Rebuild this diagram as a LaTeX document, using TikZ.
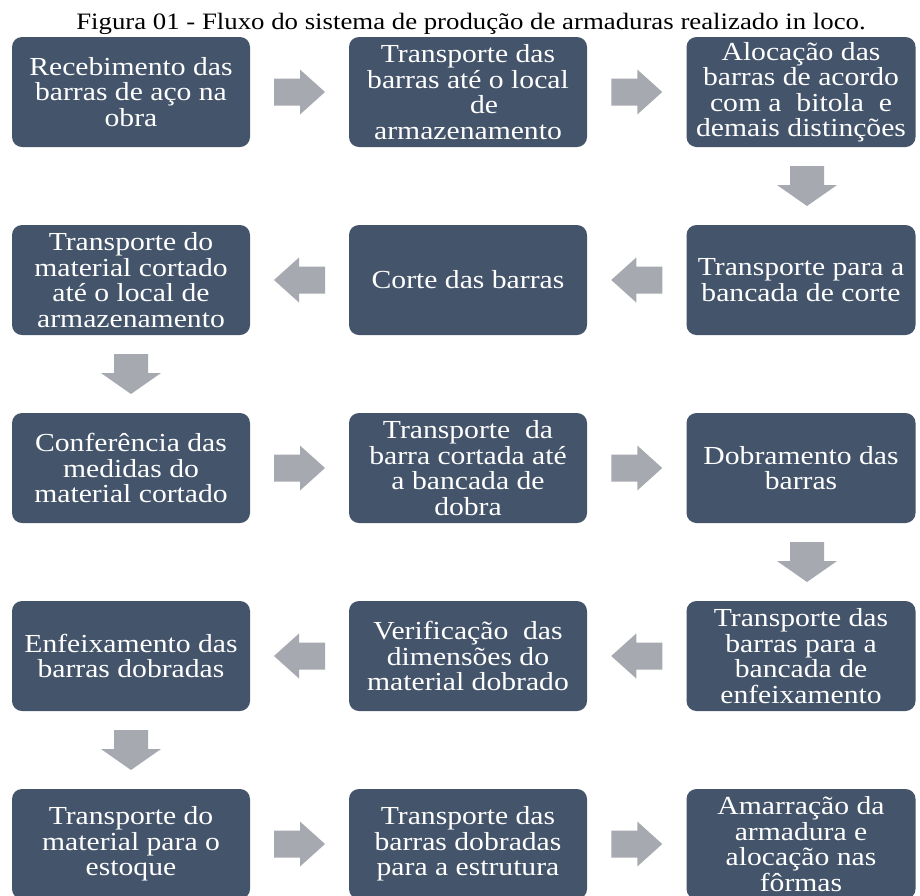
\documentclass[tikz,border=0pt]{standalone}
\usepackage{fontspec}
\setmainfont{Liberation Serif}[FakeStretch=1.14]
\usetikzlibrary{calc}
\definecolor{boxfill}{HTML}{44546A}
\definecolor{arrowfill}{RGB}{166,169,176}
\tikzset{
  stepbox/.style={draw=none, fill=boxfill, rounded corners=10pt, text=white,
    align=center, inner sep=0pt, minimum height=110pt, minimum width=238pt,
    font=\fontsize{26}{25.5}\selectfont},
  narrowbox/.style={stepbox, minimum width=229pt},
  blockarrow/.style={fill=arrowfill, draw=none}
}
\newcommand\rightblock[1]{\fill[blockarrow, shift={(#1)}] (-25.5,-13.5) -- (0.5,-13.5) -- (0.5,-22.5) -- (25.5,0) -- (0.5,22.5) -- (0.5,13.5) -- (-25.5,13.5) -- cycle;}
\newcommand\leftblock[1]{\fill[blockarrow, shift={(#1)}] (25.5,-13.5) -- (-0.5,-13.5) -- (-0.5,-22.5) -- (-25.5,0) -- (-0.5,22.5) -- (-0.5,13.5) -- (25.5,13.5) -- cycle;}
\newcommand\downblock[1]{\fill[blockarrow, shift={(#1)}] (-17,-20) -- (17,-20) -- (17,-1) -- (30,-1) -- (0,20) -- (-30,-1) -- (-17,-1) -- cycle;}
\begin{document}
\begin{tikzpicture}[x=1pt,y=-1pt]
\fill[white] (0,0) rectangle (920,895);
\useasboundingbox (0,0) rectangle (920,895);

\node[anchor=base, font=\fontsize{23.5}{28}\selectfont] (title) at (471,29)
  {Figura 01 - Fluxo do sistema de produção de armaduras realizado in loco.};

% row 1
\node[stepbox] (a1) at (131,92) {Recebimento das\\barras de aço na\\obra};
\node[stepbox] (a2) at (468,92) {Transporte das\\barras até o local\\\hspace*{32pt}de\\armazenamento};
\node[narrowbox] (a3) at (801,92) {Alocação das\\barras de acordo\\com a\ \ bitola\ \ e\\demais distinções};
% row 2
\node[narrowbox] (b3) at (801,280) {Transporte para a\\bancada de corte};
\node[stepbox] (b2) at (468,280) {Corte das barras};
\node[stepbox] (b1) at (131,280) {Transporte do\\material cortado\\até o local de\\armazenamento};
% row 3
\node[stepbox] (c1) at (131,468) {Conferência das\\medidas do\\material cortado};
\node[stepbox] (c2) at (468,468) {Transporte\ \ da\\barra cortada até\\a bancada de\\dobra};
\node[narrowbox] (c3) at (801,468) {Dobramento das\\barras};
% row 4
\node[narrowbox] (d3) at (801,656) {Transporte das\\barras para a\\bancada de\\enfeixamento};
\node[stepbox] (d2) at (468,656) {Verificação\ \ das\\dimensões do\\material dobrado};
\node[stepbox] (d1) at (131,656) {Enfeixamento das\\barras dobradas};
% row 5
\node[stepbox] (e1) at (131,844) {Transporte do\\material para o\\estoque};
\node[stepbox] (e2) at (468,844) {Transporte das\\barras dobradas\\para a estrutura};
\node[narrowbox] (e3) at (801,844) {Amarração da\\armadura e\\alocação nas\\fôrmas};

% connectors (block arrows)
\coordinate (ar1) at ($(a1.east)!0.5!(a2.west)$);
\coordinate (ar2) at ($(a2.east)!0.5!(a3.west)$);
\coordinate (ad1) at ($($(a3.south)!0.5!(b3.north)$)+(6,0)$);
\coordinate (al1) at ($(b3.west)!0.5!(b2.east)$);
\coordinate (al2) at ($(b2.west)!0.5!(b1.east)$);
\coordinate (ad2) at ($(b1.south)!0.5!(c1.north)$);
\coordinate (ar3) at ($(c1.east)!0.5!(c2.west)$);
\coordinate (ar4) at ($(c2.east)!0.5!(c3.west)$);
\coordinate (ad3) at ($($(c3.south)!0.5!(d3.north)$)+(6,0)$);
\coordinate (al3) at ($(d3.west)!0.5!(d2.east)$);
\coordinate (al4) at ($(d2.west)!0.5!(d1.east)$);
\coordinate (ad4) at ($(d1.south)!0.5!(e1.north)$);
\coordinate (ar5) at ($(e1.east)!0.5!(e2.west)$);
\coordinate (ar6) at ($(e2.east)!0.5!(e3.west)$);

\rightblock{ar1}
\rightblock{ar2}
\downblock{ad1}
\leftblock{al1}
\leftblock{al2}
\downblock{ad2}
\rightblock{ar3}
\rightblock{ar4}
\downblock{ad3}
\leftblock{al3}
\leftblock{al4}
\downblock{ad4}
\rightblock{ar5}
\rightblock{ar6}
\end{tikzpicture}
\end{document}
